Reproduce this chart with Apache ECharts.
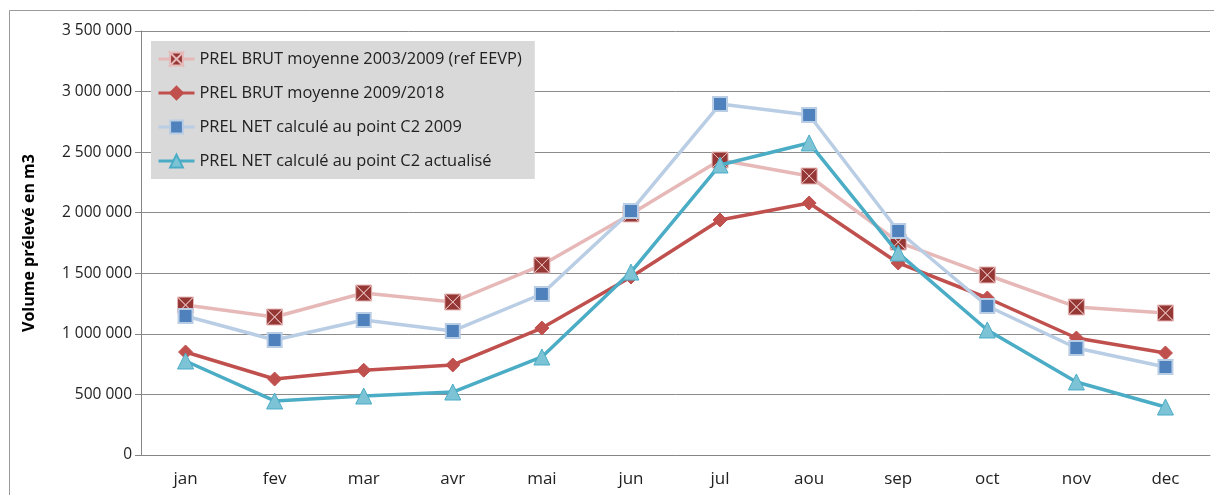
<!DOCTYPE html>
<html>
<head>
<meta charset="utf-8">
<script src="https://cdn.jsdelivr.net/npm/echarts@6/dist/echarts.min.js"></script>
<style>
  html, body { margin: 0; padding: 0; background: #fff; }
  #chart { width: 1214px; height: 495px; }
</style>
</head>
<body>
<div id="chart"></div>
<script>
// mois
var months = ['jan', 'fev', 'mar', 'avr', 'mai', 'jun', 'jul', 'aou', 'sep', 'oct', 'nov', 'dec'];

// volumes prélevés (m3)
var brutRef = [1238000, 1139000, 1337000, 1263000, 1568000, 1990000, 2435000, 2303000, 1758000, 1486000, 1222000, 1172000];
var brut0918 = [850000, 627000, 700000, 743000, 1048000, 1469000, 1940000, 2080000, 1585000, 1296000, 966000, 842000];
var net2009 = [1147000, 949000, 1114000, 1024000, 1329000, 2014000, 2897000, 2807000, 1849000, 1230000, 883000, 726000];
var netActu = [776000, 446000, 487000, 520000, 809000, 1510000, 2394000, 2576000, 1667000, 1032000, 603000, 396000];

var names = [
  'PREL BRUT moyenne 2003/2009 (ref EEVP)',
  'PREL BRUT moyenne 2009/2018',
  'PREL NET calculé au point C2 2009',
  'PREL NET calculé au point C2 actualisé'
];

var FONT = 'Open Sans';
// carré avec croix (4 triangles, le contour dessine la croix)
var crossBox = 'path://M0,0L10,0L5,5Z M10,0L10,10L5,5Z M10,10L0,10L5,5Z M0,10L0,0L5,5Z';

var chart = echarts.init(document.getElementById('chart'));
chart.setOption({
  animation: false,
  textStyle: { fontFamily: FONT },
  graphic: [{
    type: 'rect',
    shape: { x: 9.5, y: 10.5, width: 1300, height: 600 },
    style: { fill: null, stroke: '#999', lineWidth: 1 },
    z: -1
  }],
  grid: { left: 141, right: 4, top: 31, bottom: 40 },
  legend: {
    left: 151, top: 41,
    orient: 'vertical',
    backgroundColor: '#d9d9d9',
    padding: [10, 13, 10, 6],
    itemWidth: 36, itemHeight: 16, itemGap: 18,
    lineStyle: { width: 3 },
    textStyle: { fontFamily: FONT, fontSize: 16.4, color: '#222' },
    data: names
  },
  xAxis: {
    type: 'category',
    data: months,
    boundaryGap: true,
    axisLine: { lineStyle: { color: '#868686' } },
    axisTick: { length: 8, lineStyle: { color: '#868686' } },
    axisLabel: { margin: 16, fontSize: 17, color: '#222', fontFamily: FONT }
  },
  yAxis: {
    type: 'value',
    min: 0, max: 3500000, interval: 500000,
    name: 'Volume prélevé en m3',
    nameLocation: 'middle',
    nameGap: 104,
    nameTextStyle: { fontWeight: 'bold', fontSize: 16, color: '#000', fontFamily: FONT },
    axisLine: { show: true, lineStyle: { color: '#868686' } },
    axisTick: { show: true, length: 6, lineStyle: { color: '#868686' } },
    splitLine: { lineStyle: { color: '#8c8c8c' } },
    axisLabel: {
      margin: 9, fontSize: 15.5, color: '#222', fontFamily: FONT,
      formatter: function (v) { return String(v).replace(/\B(?=(\d{3})+(?!\d))/g, ' '); }
    }
  },
  series: [
    {
      name: names[0], type: 'line', data: brutRef,
      symbol: crossBox, symbolSize: 16,
      lineStyle: { color: '#e6b9b8', width: 3.5 },
      itemStyle: { color: '#953735', borderColor: '#e6b9b8', borderWidth: 1 },
      z: 2
    },
    {
      name: names[1], type: 'line', data: brut0918,
      symbol: 'diamond', symbolSize: 14,
      lineStyle: { color: '#c0504d', width: 3.5 },
      itemStyle: { color: '#c0504d', borderColor: '#c0504d', borderWidth: 1 },
      z: 3
    },
    {
      name: names[2], type: 'line', data: net2009,
      symbol: 'rect', symbolSize: 14,
      lineStyle: { color: '#b9cde5', width: 3.5 },
      itemStyle: { color: '#4f81bd', borderColor: '#b9cde5', borderWidth: 2 },
      z: 4
    },
    {
      name: names[3], type: 'line', data: netActu,
      symbol: 'triangle', symbolSize: 16,
      lineStyle: { color: '#4bacc6', width: 3.5 },
      itemStyle: { color: '#7cc3d6', borderColor: '#4bacc6', borderWidth: 1 },
      z: 5
    }
  ]
});
</script>
</body>
</html>
